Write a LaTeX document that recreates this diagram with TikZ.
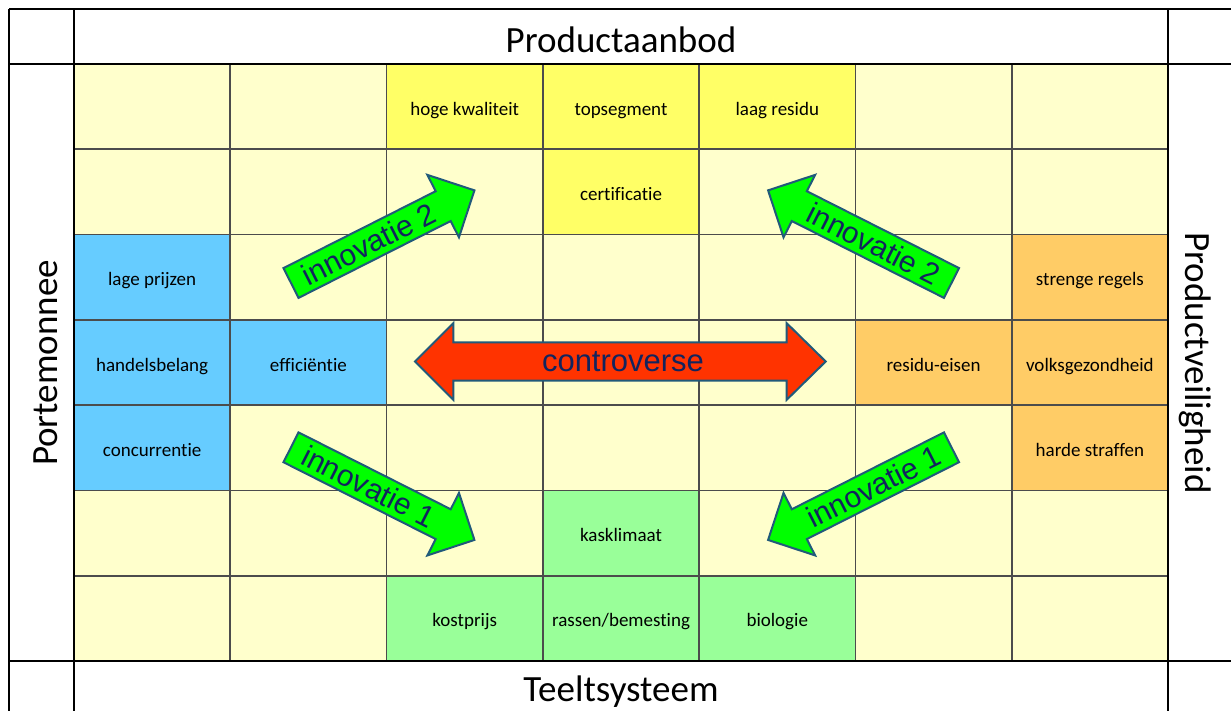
\documentclass[tikz,border=0pt]{standalone}
\usepackage{fontspec}
\setmainfont[RawFeature={-liga;-clig;-dlig;-calt}]{Carlito}
\newfontfamily\arialfont{Liberation Sans}
\definecolor{lightyel}{HTML}{FFFFCC}
\definecolor{yel}{HTML}{FFFF66}
\definecolor{blu}{HTML}{66CCFF}
\definecolor{ora}{HTML}{FFCC66}
\definecolor{grn}{HTML}{99FF99}
\definecolor{arrgreen}{HTML}{00FF00}
\definecolor{arrred}{HTML}{FF3300}
\definecolor{arredge}{HTML}{215A7A}
\definecolor{arrtext}{HTML}{12245E}
\newcommand\gcell[5]{%
  \fill[#3] ({74+(#1-1)*156.2857},{64+(#2-1)*85.2857}) rectangle ++(156.2857,85.2857);
  \node[celltext] (#5) at ({74+(#1-0.5)*156.2857},{64+(#2-0.5)*85.2857+8.5}) {#4};}
\begin{document}
\begin{tikzpicture}[x=1pt,y=-1pt,
  celltext/.style={font=\fontsize{19}{19}\selectfont, anchor=base, inner sep=0pt},
  headtext/.style={font=\fontsize{37}{37}\selectfont, anchor=base, inner sep=0pt},
  arrowbody/.style={draw=arredge, line width=2pt, line join=miter},
  arrowlabel/.style={font=\arialfont\fontsize{30}{30}\selectfont, text=arrtext, inner sep=0pt, transform shape},
  gridline/.style={black!70, line width=1.6pt},
  frameline/.style={black, line width=2.8pt}]
\useasboundingbox (0,0) rectangle (1231,711);
\fill[white] (0,0) rectangle (1231,711);
\fill[lightyel] (74,64) rectangle (1168,661);
% coloured cells
\gcell{3}{1}{yel}{hoge kwaliteit}{hk}
\gcell{4}{1}{yel}{topsegment}{ts}
\gcell{5}{1}{yel}{laag residu}{lr}
\gcell{4}{2}{yel}{certificatie}{cert}
\gcell{1}{3}{blu}{lage prijzen}{lp}
\gcell{1}{4}{blu}{handelsbelang}{hb}
\gcell{2}{4}{blu}{efficiëntie}{eff}
\gcell{1}{5}{blu}{concurrentie}{conc}
\gcell{7}{3}{ora}{strenge regels}{sr}
\gcell{6}{4}{ora}{residu-eisen}{re}
\gcell{7}{4}{ora}{volksgezondheid}{vg}
\gcell{7}{5}{ora}{harde straffen}{hs}
\gcell{4}{6}{grn}{kasklimaat}{kk}
\gcell{3}{7}{grn}{kostprijs}{kp}
\gcell{4}{7}{grn}{rassen/bemesting}{rb}
\gcell{5}{7}{grn}{biologie}{bio}
% inner grid
\foreach \j in {1,...,6} {
  \draw[gridline] ({74+\j*156.2857},64) -- ({74+\j*156.2857},661);
  \draw[gridline] (74,{64+\j*85.2857}) -- (1168,{64+\j*85.2857});
}
% frame
\foreach \xx in {9,74,1168} { \draw[frameline] (\xx,9) -- (\xx,712); }
\foreach \yy in {9,64,661} { \draw[frameline] (9,\yy) -- (1232,\yy); }
% headers
\node[headtext] (top) at (621,53) {Productaanbod};
\node[headtext] (bottom) at (621,701) {Teeltsysteem};
\node[headtext, rotate=90] (left) at (57,363) {Portemonnee};
\node[headtext, rotate=-90] (right) at (1185,363) {Productveiligheid};
% green arrows
\begin{scope}[shift={(291,283)}, rotate=26.8]
  \draw[arrowbody, fill=arrgreen] (0,-16.7) -- (170.5,-16.7) -- (170.5,-35) -- (205.5,0) -- (170.5,35) -- (170.5,16.7) -- (0,16.7) -- cycle;
  \node[arrowlabel] (innA) at (87,0) {innovatie 2};
\end{scope}
\begin{scope}[shift={(951.5,283)}, rotate=153.2]
  \draw[arrowbody, fill=arrgreen] (0,-16.7) -- (170.5,-16.7) -- (170.5,-35) -- (205.5,0) -- (170.5,35) -- (170.5,16.7) -- (0,16.7) -- cycle;
  \node[arrowlabel, rotate=180] (innB) at (87,0) {innovatie 2};
\end{scope}
\begin{scope}[shift={(291,447.3)}, rotate=-26.8]
  \draw[arrowbody, fill=arrgreen] (0,-16.7) -- (170.5,-16.7) -- (170.5,-35) -- (205.5,0) -- (170.5,35) -- (170.5,16.7) -- (0,16.7) -- cycle;
  \node[arrowlabel] (innC) at (87,0) {innovatie 1};
\end{scope}
\begin{scope}[shift={(951.5,447.3)}, rotate=206.8]
  \draw[arrowbody, fill=arrgreen] (0,-16.7) -- (170.5,-16.7) -- (170.5,-35) -- (205.5,0) -- (170.5,35) -- (170.5,16.7) -- (0,16.7) -- cycle;
  \node[arrowlabel, rotate=180] (innD) at (87,0) {innovatie 1};
\end{scope}
% controverse double arrow
\draw[arrowbody, fill=arrred] (415,361.5) -- (453.3,323.2) -- (453.3,342.3) -- (786.7,342.3) -- (786.7,323.2) -- (825.7,361.5) -- (786.7,399.8) -- (786.7,380.7) -- (453.3,380.7) -- (453.3,399.8) -- cycle;
\node[font=\arialfont\fontsize{31}{31}\selectfont, text=arrtext, anchor=base, inner sep=0pt] (contro) at (623,371) {controverse};
\end{tikzpicture}
\end{document}
